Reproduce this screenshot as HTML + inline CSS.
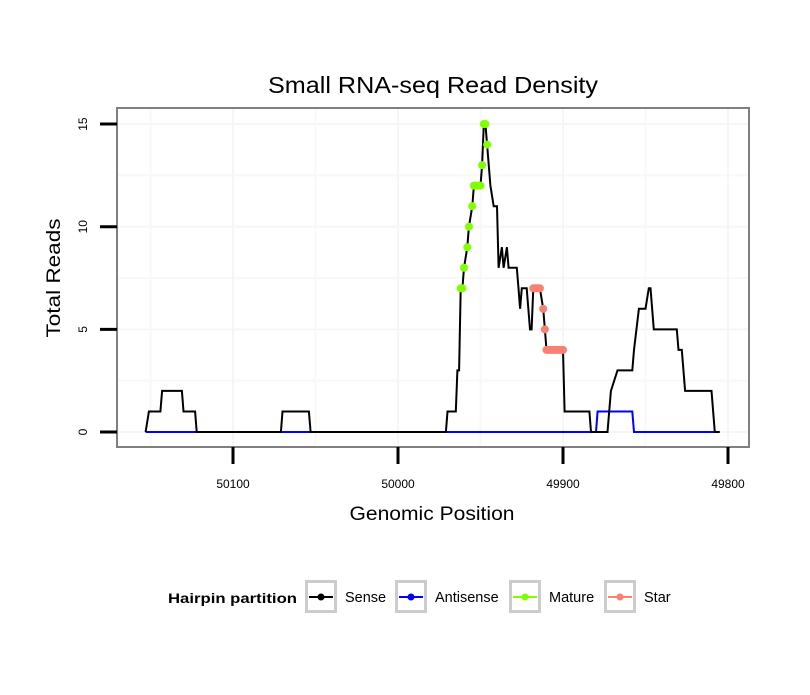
<!DOCTYPE html>
<html><head><meta charset="utf-8"><style>body{margin:0;background:#fff}svg{font-family:"Liberation Sans",sans-serif}</style></head>
<body>
<svg id="c" width="810" height="690"></svg>
<script>
const sensePos=[50153,50151,50144,50143,50131,50130,50123,50122,50071,50070,50054,50053,49971,49970,49965,49964,49963,49962,49961,49960,49958,49957,49955,49954,49950,49949,49948,49947,49946,49944,49942,49940,49939,49937,49936,49934,49933,49928,49927,49926,49925,49922,49920,49919,49918,49914,49912,49911,49910,49900,49899,49884,49883,49873,49871,49867,49858,49857,49854,49850,49848,49847,49845,49831,49830,49828,49826,49810,49808,49805];
const senseVal=[0,1,1,2,2,1,1,0,0,1,1,0,0,1,1,3,3,7,7,8,9,10,11,12,12,13,15,15,14,12,11,11,8,9,8,9,8,8,7,6,7,7,5,5,7,7,6,5,4,4,1,1,0,0,2,3,3,4,6,6,7,7,5,5,4,4,2,2,0,0];
const antiPos=[50153,49880,49879,49858,49857,49808];
const antiVal=[0,0,1,1,0,0];
const maturePos=[49962,49961,49960,49958,49957,49955,49954,49953,49952,49951,49950,49949,49948,49947,49946];
const matureVal=[7,7,8,9,10,11,12,12,12,12,12,13,15,15,14];
const starPos=[49918,49917,49916,49915,49914,49912,49911,49910,49909,49908,49907,49906,49905,49904,49903,49902,49901,49900];
const starVal=[7,7,7,7,7,6,5,4,4,4,4,4,4,4,4,4,4,4];
const xTicks=[50100,50000,49900,49800];
const yTicks=[0,5,10,15];
const legendLabels=["Sense","Antisense","Mature","Star"];
const legendColors=["#000","#0000ff","#7fff00","#fa8072"];

const svg=document.getElementById('c');
const NS='http://www.w3.org/2000/svg';
function X(p){return 398+(50000-p)*1.65;}
function Y(v){return 432-v*20.53;}
function mk(t,a,name,parent){const e=document.createElementNS(NS,t);for(const k in a)e.setAttribute(k,a[k]);


(parent||svg).appendChild(e);return e;}
mk('text',{x:433,y:93,'text-anchor':'middle','font-size':23,textLength:330,lengthAdjust:'spacingAndGlyphs'},'chart-title').textContent='Small RNA-seq Read Density';
const L=117,R=749,T=108,B=447;
for(const v of [2.5,7.5,12.5])mk('line',{x1:L,x2:R,y1:Y(v),y2:Y(v),stroke:'#f8f8f8','stroke-width':2},'minor-gridline');
for(const v of yTicks)mk('line',{x1:L,x2:R,y1:Y(v),y2:Y(v),stroke:'#f6f6f6','stroke-width':2},'major-gridline');
for(const p of [50150,50050,49950,49850])mk('line',{x1:X(p),x2:X(p),y1:T,y2:B,stroke:'#f8f8f8','stroke-width':2},'minor-gridline');
for(const p of xTicks)mk('line',{x1:X(p),x2:X(p),y1:T,y2:B,stroke:'#f6f6f6','stroke-width':2},'major-gridline');
function path(ps,vs,col,name){let d='';ps.forEach((p,i)=>{d+=(i?'L':'M')+X(p).toFixed(1)+','+Y(vs[i]).toFixed(1);});
mk('path',{d:d,fill:'none',stroke:col,'stroke-width':2},name);}
path(antiPos,antiVal,'#0000ff','antisense-line');
path(sensePos,senseVal,'#000','sense-line');
maturePos.forEach((p,i)=>mk('circle',{cx:X(p),cy:Y(matureVal[i]),r:4,fill:'#7fff00'},'mature-point'));
starPos.forEach((p,i)=>mk('circle',{cx:X(p),cy:Y(starVal[i]),r:4,fill:'#fa8072'},'star-point'));
mk('rect',{x:L,y:T,width:R-L,height:B-T,fill:'none',stroke:'#808080','stroke-width':2},'plot-border');
for(const v of yTicks){mk('line',{x1:100,x2:L,y1:Y(v),y2:Y(v),stroke:'#000','stroke-width':3},'y-tick');
const t=mk('text',{x:87,y:Y(v),'text-anchor':'middle','font-size':12,transform:`rotate(-90 87 ${Y(v)})`},'y-tick-label');t.textContent=v;}
for(const p of xTicks){mk('line',{x1:X(p),x2:X(p),y1:B,y2:464,stroke:'#000','stroke-width':3},'x-tick');
mk('text',{x:X(p),y:488,'text-anchor':'middle','font-size':12},'x-tick-label').textContent=p;}
mk('text',{x:432,y:520,'text-anchor':'middle','font-size':19,textLength:165,lengthAdjust:'spacingAndGlyphs'},'x-axis-title').textContent='Genomic Position';
mk('text',{x:60,y:278,'text-anchor':'middle','font-size':19,textLength:119,lengthAdjust:'spacingAndGlyphs',transform:'rotate(-90 60 278)'},'y-axis-title').textContent='Total Reads';
mk('text',{x:168,y:603,'font-size':14,'font-weight':'bold',textLength:129,lengthAdjust:'spacingAndGlyphs'},'legend-title').textContent='Hairpin partition';
const bx=[305,395,509,604];
legendLabels.forEach((lab,i)=>{const g=mk('g',{},'legend-entry');
mk('rect',{x:bx[i]+1.5,y:581.5,width:29,height:30,fill:'#fff',stroke:'#cccccc','stroke-width':3},'legend-key',g);
mk('line',{x1:bx[i]+4,x2:bx[i]+28,y1:597,y2:597,stroke:legendColors[i],'stroke-width':2},'legend-line',g);
mk('circle',{cx:bx[i]+16,cy:597,r:3.5,fill:legendColors[i]},'legend-dot',g);
mk('text',{x:bx[i]+40,y:602,'font-size':14.5},'legend-label',g).textContent=lab;});
</script>
</body></html>
